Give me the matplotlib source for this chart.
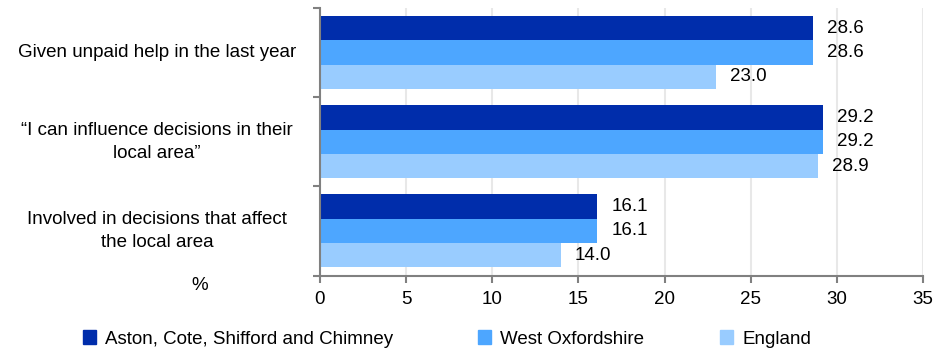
import matplotlib.pyplot as plt
import matplotlib.patches as mpatches
import numpy as np

plt.rcParams['font.family'] = ['Liberation Sans', 'DejaVu Sans']

categories = ['Given unpaid help in the last year',
              '\u201cI can influence decisions in their\nlocal area\u201d',
              'Involved in decisions that affect\nthe local area']
series_names = ['Aston, Cote, Shifford and Chimney', 'West Oxfordshire', 'England']
aston = [28.6, 29.2, 16.1]
west_ox = [28.6, 29.2, 16.1]
england = [23.0, 28.9, 14.0]
colors = ['#002DAB', '#4DA6FF', '#99CCFF']
x_ticks = [0, 5, 10, 15, 20, 25, 30, 35]

fs = 13.5
fig = plt.figure(figsize=(9.45, 3.5), dpi=100)
ax = fig.add_axes([320 / 945, 1 - 275.5 / 350, 603 / 945, 267.5 / 350])

y = np.arange(len(categories))
h = 0.273
for i, (vals, name, col) in enumerate(zip([aston, west_ox, england], series_names, colors)):
    pos = y - h + i * h
    bars = ax.barh(pos, vals, height=h, color=col, label=name, zorder=2)
    for b, v in zip(bars, vals):
        ax.annotate('%.1f' % v, (v, b.get_y() + b.get_height() / 2),
                    xytext=(10, 0), textcoords='offset points',
                    va='center', ha='left', fontsize=fs)

ax.set_xlim(0, 35)
ax.set_ylim(2.5, -0.5)
ax.set_xticks(x_ticks)
ax.tick_params(axis='x', labelsize=fs, colors='#808080', labelcolor='black', length=5, width=1.5, pad=6)
ax.set_yticks([-0.5, 0.5, 1.5, 2.5])
ax.set_yticklabels([])
ax.tick_params(axis='y', colors='#808080', length=5, width=1.5)
ax.grid(axis='x', color='#e8e8e8', lw=1.5, zorder=0)
for s in ['top', 'right']:
    ax.spines[s].set_visible(False)
for s in ['left', 'bottom']:
    ax.spines[s].set_color('#808080')
    ax.spines[s].set_linewidth(1.5)

tr = ax.get_yaxis_transform()
for yi, cat in zip(y, categories):
    ax.text(-0.27, yi, cat, transform=tr, ha='center', va='center',
            multialignment='center', fontsize=fs, linespacing=1.45)

fig.text(200 / 945, 1 - 285 / 350, '%', ha='center', va='center', fontsize=fs)

# legend entries placed at fixed positions like the original
leg_x = [83, 478, 720]
for name, col, lx in zip(series_names, colors, leg_x):
    patch = mpatches.Patch(color=col, label=name)
    leg = fig.legend(handles=[patch], loc='center left', bbox_to_anchor=(lx / 945, 1 - 339 / 350),
                     frameon=False, fontsize=fs, handlelength=0.7, handleheight=0.7,
                     handletextpad=0.5, borderpad=0, borderaxespad=0)

fig.savefig('out.png', dpi=100)
